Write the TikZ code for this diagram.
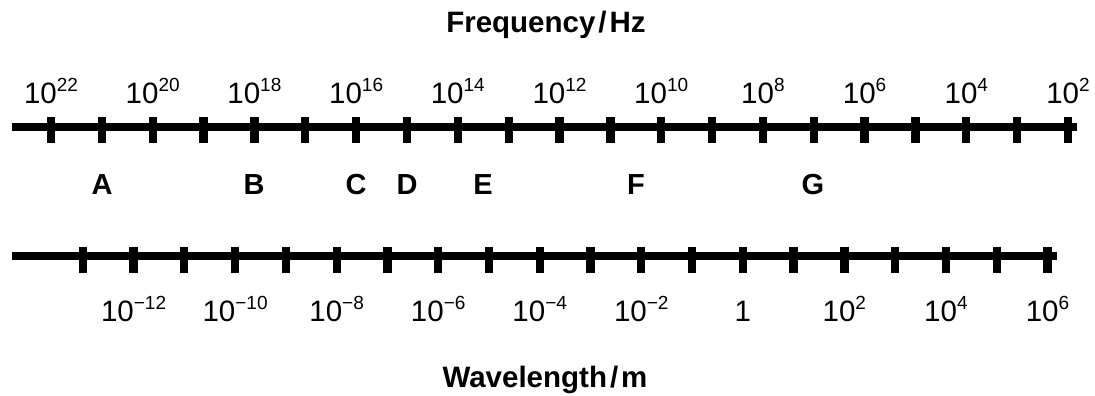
\documentclass[tikz,border=0pt]{standalone}
\usepackage{fontspec}
\setmainfont{Liberation Sans}
\newcommand{\pw}[1]{10\raisebox{12pt}{\fontsize{19}{19}\selectfont #1}}
\tikzset{
  axisline/.style={line width=8pt},
  tickmark/.style={line width=8.3pt},
  numlabel/.style={anchor=base, inner sep=0pt, font=\fontsize{29.5}{29.5}\selectfont},
  letterlabel/.style={anchor=base, inner sep=0pt, font=\fontsize{29}{29}\selectfont\bfseries},
  titlelabel/.style={anchor=base, inner sep=0pt, font=\fontsize{29.5}{29.5}\selectfont\bfseries}
}
\begin{document}
\begin{tikzpicture}[x=1pt,y=-1pt]
\useasboundingbox (0,0) rectangle (1095,396);
% titles
\node[titlelabel] (ftitle) at (546,33) {Frequency\hspace{3pt}/\hspace{3pt}Hz};
\node[titlelabel] (wtitle) at (545,387) {Wavelength\hspace{3pt}/\hspace{3pt}m};
% frequency axis
\coordinate (fstart) at (12,126.7);
\coordinate (fend) at (1077,126.7);
\draw[axisline] (fstart) -- (fend);
\foreach \k in {0,...,20}{
  \pgfmathsetmacro{\xx}{51+50.85*\k}
  \draw[tickmark] (\xx,117) -- (\xx,143);
}
\foreach \k/\e in {0/22,2/20,4/18,6/16,8/14,10/12,12/10,14/8,16/6,18/4,20/2}{
  \pgfmathsetmacro{\xx}{51+50.85*\k}
  \node[numlabel] (f\k) at (\xx,103) {\pw{\e}};
}
% letters
\node[letterlabel] (A) at (102,194) {A};
\node[letterlabel] (B) at (254,194) {B};
\node[letterlabel] (C) at (356,194) {C};
\node[letterlabel] (D) at (407,194) {D};
\node[letterlabel] (E) at (483,194) {E};
\node[letterlabel] (F) at (636,194) {F};
\node[letterlabel] (G) at (813,194) {G};
% wavelength axis
\coordinate (wstart) at (12,256);
\coordinate (wend) at (1057,256);
\draw[axisline] (wstart) -- (wend);
\foreach \k in {0,...,19}{
  \pgfmathsetmacro{\xx}{82.8+50.77*\k}
  \draw[tickmark] (\xx,246.7) -- (\xx,272.7);
}
\foreach \k/\lab in {1/{\pw{−12}},3/{\pw{−10}},5/{\pw{−8}},7/{\pw{−6}},9/{\pw{−4}},11/{\pw{−2}},13/{1},15/{\pw{2}},17/{\pw{4}},19/{\pw{6}}}{
  \pgfmathsetmacro{\xx}{82.8+50.77*\k}
  \node[numlabel] (w\k) at (\xx,321) {\lab};
}
\end{tikzpicture}
\end{document}
